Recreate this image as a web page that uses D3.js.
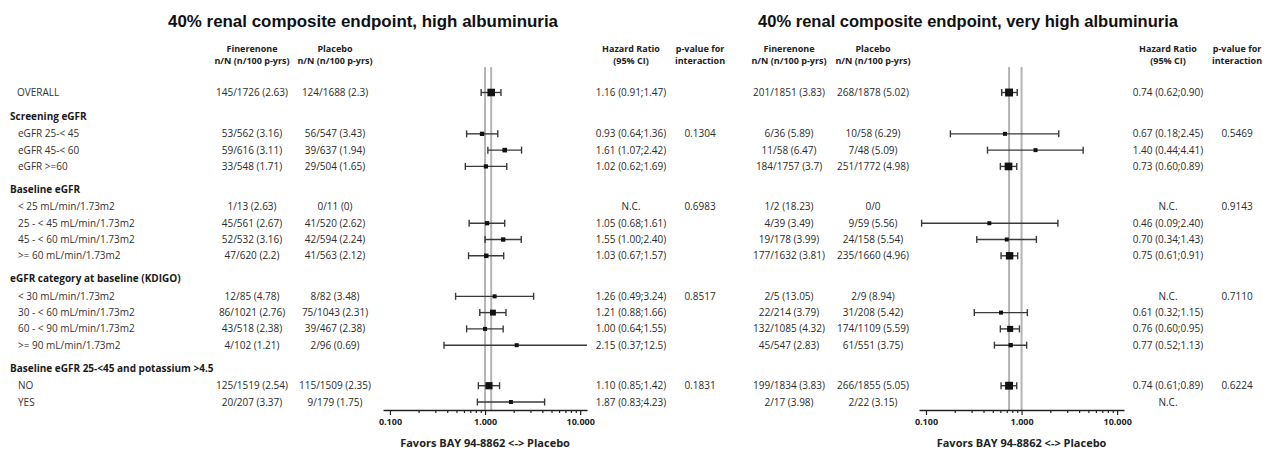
<!DOCTYPE html>
<html>
<head>
<meta charset="utf-8">
<script src="https://cdn.jsdelivr.net/npm/d3@7"></script>
<style>
  html, body { margin: 0; padding: 0; background: #fff; }
  svg { display: block; }
  text { font-family: "Open Sans", "Noto Sans", sans-serif; }
  text.title { font-family: "Liberation Sans", Arial, sans-serif; }
</style>
</head>
<body>
<svg id="chart" width="1270" height="450"></svg>
<script>
// ---- Subgroup rows (shared by both panels) ----
const rowLabels = [
  "OVERALL",
  "Screening eGFR",
  "eGFR 25-< 45",
  "eGFR 45-< 60",
  "eGFR >=60",
  "Baseline eGFR",
  "< 25 mL/min/1.73m2",
  "25 - < 45 mL/min/1.73m2",
  "45 - < 60 mL/min/1.73m2",
  ">= 60 mL/min/1.73m2",
  "eGFR category at baseline (KDIGO)",
  "< 30 mL/min/1.73m2",
  "30 - < 60 mL/min/1.73m2",
  "60 - < 90 mL/min/1.73m2",
  ">= 90 mL/min/1.73m2",
  "Baseline eGFR 25-<45 and potassium >4.5",
  "NO",
  "YES"
];
const rowKinds = [
  "overall",
  "group", "sub", "sub", "sub",
  "group", "sub", "sub", "sub", "sub",
  "group", "sub", "sub", "sub", "sub",
  "group", "sub", "sub"
];

// ---- High albuminuria ----
const highFinerenone = [
  "145/1726 (2.63)",
  null, "53/562 (3.16)", "59/616 (3.11)", "33/548 (1.71)",
  null, "1/13 (2.63)", "45/561 (2.67)", "52/532 (3.16)", "47/620 (2.2)",
  null, "12/85 (4.78)", "86/1021 (2.76)", "43/518 (2.38)", "4/102 (1.21)",
  null, "125/1519 (2.54)", "20/207 (3.37)"
];
const highPlacebo = [
  "124/1688 (2.3)",
  null, "56/547 (3.43)", "39/637 (1.94)", "29/504 (1.65)",
  null, "0/11 (0)", "41/520 (2.62)", "42/594 (2.24)", "41/563 (2.12)",
  null, "8/82 (3.48)", "75/1043 (2.31)", "39/467 (2.38)", "2/96 (0.69)",
  null, "115/1509 (2.35)", "9/179 (1.75)"
];
const highHR = [1.16, null, 0.93, 1.61, 1.02, null, null, 1.05, 1.55, 1.03, null, 1.26, 1.21, 1.00, 2.15, null, 1.10, 1.87];
const highLower = [0.91, null, 0.64, 1.07, 0.62, null, null, 0.68, 1.00, 0.67, null, 0.49, 0.88, 0.64, 0.37, null, 0.85, 0.83];
const highUpper = [1.47, null, 1.36, 2.42, 1.69, null, null, 1.61, 2.40, 1.57, null, 3.24, 1.66, 1.55, 12.5, null, 1.42, 4.23];
const highPInteraction = [null, null, "0.1304", null, null, null, "0.6983", null, null, null, null, "0.8517", null, null, null, null, "0.1831", null];

// ---- Very high albuminuria ----
const veryHighFinerenone = [
  "201/1851 (3.83)",
  null, "6/36 (5.89)", "11/58 (6.47)", "184/1757 (3.7)",
  null, "1/2 (18.23)", "4/39 (3.49)", "19/178 (3.99)", "177/1632 (3.81)",
  null, "2/5 (13.05)", "22/214 (3.79)", "132/1085 (4.32)", "45/547 (2.83)",
  null, "199/1834 (3.83)", "2/17 (3.98)"
];
const veryHighPlacebo = [
  "268/1878 (5.02)",
  null, "10/58 (6.29)", "7/48 (5.09)", "251/1772 (4.98)",
  null, "0/0", "9/59 (5.56)", "24/158 (5.54)", "235/1660 (4.96)",
  null, "2/9 (8.94)", "31/208 (5.42)", "174/1109 (5.59)", "61/551 (3.75)",
  null, "266/1855 (5.05)", "2/22 (3.15)"
];
const veryHighHR = [0.74, null, 0.67, 1.40, 0.73, null, null, 0.46, 0.70, 0.75, null, null, 0.61, 0.76, 0.77, null, 0.74, null];
const veryHighLower = [0.62, null, 0.18, 0.44, 0.60, null, null, 0.09, 0.34, 0.61, null, null, 0.32, 0.60, 0.52, null, 0.61, null];
const veryHighUpper = [0.90, null, 2.45, 4.41, 0.89, null, null, 2.40, 1.43, 0.91, null, null, 1.15, 0.95, 1.13, null, 0.89, null];
const veryHighPInteraction = [null, null, "0.5469", null, null, null, "0.9143", null, null, null, null, "0.7110", null, null, null, null, "0.6224", null];

// ---- Axis ----
const majorTicks = [0.1, 1, 10];
const minorTicks = [0.2, 0.3, 0.4, 0.5, 0.6, 0.7, 0.8, 0.9, 2, 3, 4, 5, 6, 7, 8, 9];
const axisTitle = "Favors BAY 94-8862 <-> Placebo";

// ---- Layout ----
const svg = d3.select("#chart");
const TEXT = "#2b2b2b";

// vertical positions: group headers get a little extra space
const slots = [];
{
  let s = 0;
  rowKinds.forEach((k, i) => {
    if (i > 0) {
      if (k === "group") s += (rowKinds[i - 1] === "overall") ? 1.47 : 1.42;
      else if (rowKinds[i - 1] === "group") s += 1.07;
      else s += 1;
    }
    slots.push(s);
  });
}
const y = d3.scaleLinear().domain([0, slots[slots.length - 1]]).range([92.5, 402]);
const axisY = 410;
const refTop = 67;

// row labels
svg.append("g").selectAll("text")
  .data(rowLabels)
  .join("text")
  .attr("x", (d, i) => rowKinds[i] === "group" ? 10 : (rowKinds[i] === "overall" ? 17 : 18))
  .attr("y", (d, i) => y(slots[i]))
  .attr("dy", "0.35em")
  .attr("font-size", 10)
  .attr("font-weight", (d, i) => rowKinds[i] === "group" ? 700 : 400)
  .attr("fill", (d, i) => rowKinds[i] === "group" ? "#1a1a1a" : "#333")
  .text(d => d);

const fmt2 = d3.format(".2f"), fmt1 = d3.format(".1f");
const fmtHR = v => v >= 10 ? fmt1(v) : fmt2(v);
const nOf = s => s ? +s.split(" ")[0].split("/")[1] : 0;
const markSize = d3.scaleSqrt().domain([0, 3800]).range([0, 8]);

function panel(cfg) {
  const g = svg.append("g");

  g.append("text")
    .attr("class", "title")
    .attr("x", cfg.titleX).attr("y", 27)
    .attr("text-anchor", "middle")
    .attr("font-weight", 700)
    .attr("font-size", 17)
    .attr("textLength", cfg.titleWidth)
    .attr("lengthAdjust", "spacingAndGlyphs")
    .attr("fill", "#111")
    .text(cfg.title);

  const headers = [
    [cfg.finX, "Finerenone", "n/N (n/100 p-yrs)"],
    [cfg.plaX, "Placebo", "n/N (n/100 p-yrs)"],
    [cfg.hrX, "Hazard Ratio", "(95% CI)"],
    [cfg.pX, "p-value for", "interaction"]
  ];
  headers.forEach(([x, a, b]) => {
    [a, b].forEach((t, j) => {
      g.append("text")
        .attr("x", x).attr("y", 49 + j * 12)
        .attr("dy", "0.35em")
        .attr("text-anchor", "middle")
        .attr("font-size", 9)
        .attr("font-weight", 700)
        .attr("fill", "#222")
        .text(t);
    });
  });

  const x = d3.scaleLog().domain([0.0845, 11.8]).range(cfg.range);

  // reference lines at HR = 1 and at the overall estimate
  [1, cfg.hr[0]].forEach(v => {
    g.append("line")
      .attr("x1", x(v)).attr("x2", x(v))
      .attr("y1", refTop).attr("y2", axisY)
      .attr("stroke", "#b4b4b4").attr("stroke-width", 2);
  });

  const cols = [
    [cfg.finX, cfg.fin],
    [cfg.plaX, cfg.pla]
  ];
  cols.forEach(([cx, arr]) => {
    g.append("g").selectAll("text")
      .data(arr.map((d, i) => ({ d, i })).filter(o => o.d))
      .join("text")
      .attr("x", cx).attr("y", o => y(slots[o.i]))
      .attr("dy", "0.35em")
      .attr("text-anchor", "middle")
      .attr("font-size", 10)
      .attr("fill", TEXT)
      .text(o => o.d);
  });

  // hazard ratio text
  g.append("g").selectAll("text")
    .data(cfg.fin.map((d, i) => ({ d, i })).filter(o => o.d))
    .join("text")
    .attr("x", cfg.hrX).attr("y", o => y(slots[o.i]))
    .attr("dy", "0.35em")
    .attr("text-anchor", "middle")
    .attr("font-size", 10)
    .attr("fill", TEXT)
    .text(o => cfg.hr[o.i] == null ? "N.C."
      : `${fmtHR(cfg.hr[o.i])} (${fmtHR(cfg.lo[o.i])};${fmtHR(cfg.hi[o.i])})`);

  // interaction p-values
  g.append("g").selectAll("text")
    .data(cfg.p.map((d, i) => ({ d, i })).filter(o => o.d))
    .join("text")
    .attr("x", cfg.pX).attr("y", o => y(slots[o.i]))
    .attr("dy", "0.35em")
    .attr("text-anchor", "middle")
    .attr("font-size", 10)
    .attr("fill", TEXT)
    .text(o => o.d);

  // confidence intervals
  const est = cfg.hr.map((d, i) => ({ hr: d, lo: cfg.lo[i], hi: cfg.hi[i], i,
    n: nOf(cfg.fin[i]) + nOf(cfg.pla[i]) })).filter(o => o.hr != null);
  const [dMin, dMax] = x.domain();
  const ci = g.append("g").attr("stroke", "#3a3a3a").attr("stroke-width", 1.4);
  est.forEach(o => {
    const yy = y(slots[o.i]);
    const a = Math.max(o.lo, dMin), b = Math.min(o.hi, dMax);
    ci.append("line").attr("x1", x(a)).attr("x2", x(b)).attr("y1", yy).attr("y2", yy);
    if (o.lo >= dMin) ci.append("line").attr("x1", x(o.lo)).attr("x2", x(o.lo)).attr("y1", yy - 3.5).attr("y2", yy + 3.5);
    if (o.hi <= dMax) ci.append("line").attr("x1", x(o.hi)).attr("x2", x(o.hi)).attr("y1", yy - 3.5).attr("y2", yy + 3.5);
  });
  g.append("g").selectAll("rect")
    .data(est)
    .join("rect")
    .attr("x", o => x(o.hr) - Math.max(4, markSize(o.n)) / 2)
    .attr("y", o => y(slots[o.i]) - Math.max(4, markSize(o.n)) / 2)
    .attr("width", o => Math.max(4, markSize(o.n)))
    .attr("height", o => Math.max(4, markSize(o.n)))
    .attr("fill", "#111");

  // log axis
  const axis = d3.axisBottom(x)
    .tickValues(majorTicks.concat(minorTicks))
    .tickSizeOuter(0)
    .tickFormat(v => majorTicks.includes(v) ? d3.format(".3f")(v) : "");
  const ag = g.append("g").attr("transform", `translate(0,${axisY})`).call(axis);
  ag.select(".domain").attr("stroke", "#222").attr("stroke-width", 1.3);
  ag.selectAll(".tick line")
    .attr("stroke", "#222").attr("stroke-width", 1.2)
    .attr("y2", v => majorTicks.includes(v) ? 5 : 3);
  ag.selectAll(".tick text")
    .attr("y", 9)
    .attr("font-size", 9)
    .attr("font-weight", 700)
    .attr("fill", "#222");

  g.append("text")
    .attr("x", x(1)).attr("y", 443)
    .attr("dy", "0.35em")
    .attr("text-anchor", "middle")
    .attr("font-size", 11)
    .attr("font-weight", 700)
    .attr("fill", "#222")
    .text(axisTitle);
}

panel({
  title: "40% renal composite endpoint, high albuminuria",
  titleX: 363, titleWidth: 390, finX: 252, plaX: 335, hrX: 631, pX: 700, range: [383, 587],
  fin: highFinerenone, pla: highPlacebo, hr: highHR, lo: highLower, hi: highUpper, p: highPInteraction
});
panel({
  title: "40% renal composite endpoint, very high albuminuria",
  titleX: 968, titleWidth: 420, finX: 789, plaX: 873, hrX: 1168, pX: 1237, range: [919, 1124],
  fin: veryHighFinerenone, pla: veryHighPlacebo, hr: veryHighHR, lo: veryHighLower, hi: veryHighUpper, p: veryHighPInteraction
});
</script>
</body>
</html>
